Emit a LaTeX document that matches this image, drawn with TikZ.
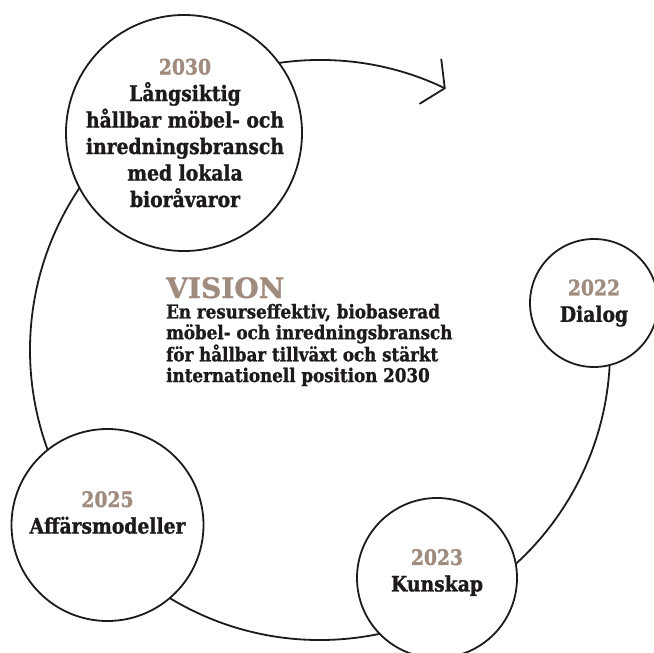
\documentclass[tikz,border=0pt]{standalone}
\usepackage{fontspec}
\setmainfont{DejaVu Serif}
\newfontfamily\heavy{DejaVu Serif Bold}[FakeStretch=0.88, FakeBold=1.2]
\newfontfamily\heavywide{DejaVu Serif Bold}[FakeBold=1.2]
\usetikzlibrary{arrows.meta}
\definecolor{brownish}{RGB}{160,140,127}
\definecolor{ink}{RGB}{30,26,27}
\begin{document}
\begin{tikzpicture}[x=1pt,y=-1pt,
  ring/.style={circle, draw=ink, line width=1.8pt, fill=white, inner sep=0pt},
  loopline/.style={draw=ink, line width=1.8pt},
  circtext/.style={align=center, inner sep=0pt, font=\heavy\fontsize{21.3}{26.5}\selectfont, text=ink},
  yr/.style={text=brownish}]
\useasboundingbox (0,0) rectangle (654,653);
\coordinate (c) at (320,350);
\path (c) ++(105:290pt) coordinate (s1);
\path (c) ++(5:290pt) coordinate (s2);
\draw[loopline, -{Straight Barb[length=16pt,width=50pt]}] (s1) arc[start angle=105, end angle=64.3, radius=290pt];
\draw[loopline] (s2) arc[start angle=5, end angle=-222, radius=290pt];
\node[ring, minimum size=236pt] (n2030) at (184,133) {};
\node[circtext] (t2030) at (185,133) {{\color{brownish}2030}\\Långsiktig\\hållbar möbel- och\\inredningsbransch\\med lokala\\bioråvaror};
\node[ring, minimum size=128pt] (n2022) at (594,303) {};
\node[circtext] (t2022) at (594,303) {{\color{brownish}2022}\\Dialog};
\node[ring, minimum size=160pt] (n2023) at (437,578) {};
\node[circtext] (t2023) at (437,572.5) {{\color{brownish}2023}\\Kunskap};
\node[ring, minimum size=192pt] (n2025) at (107.5,525) {};
\node[circtext] (t2025) at (107.5,512.5) {{\color{brownish}2025}\\Affärsmodeller};
\node[anchor=base west, inner sep=0pt, font=\heavywide\fontsize{28}{30}\selectfont, text=brownish] (vis) at (166,298) {VISION};
\node[anchor=west, align=left, inner sep=0pt, font=\heavy\fontsize{19}{20.8}\selectfont, text=ink] (vtext) at (166,345) {En resurseffektiv, biobaserad\\möbel- och inredningsbransch\\för hållbar tillväxt och stärkt\\internationell position 2030};
\end{tikzpicture}
\end{document}
